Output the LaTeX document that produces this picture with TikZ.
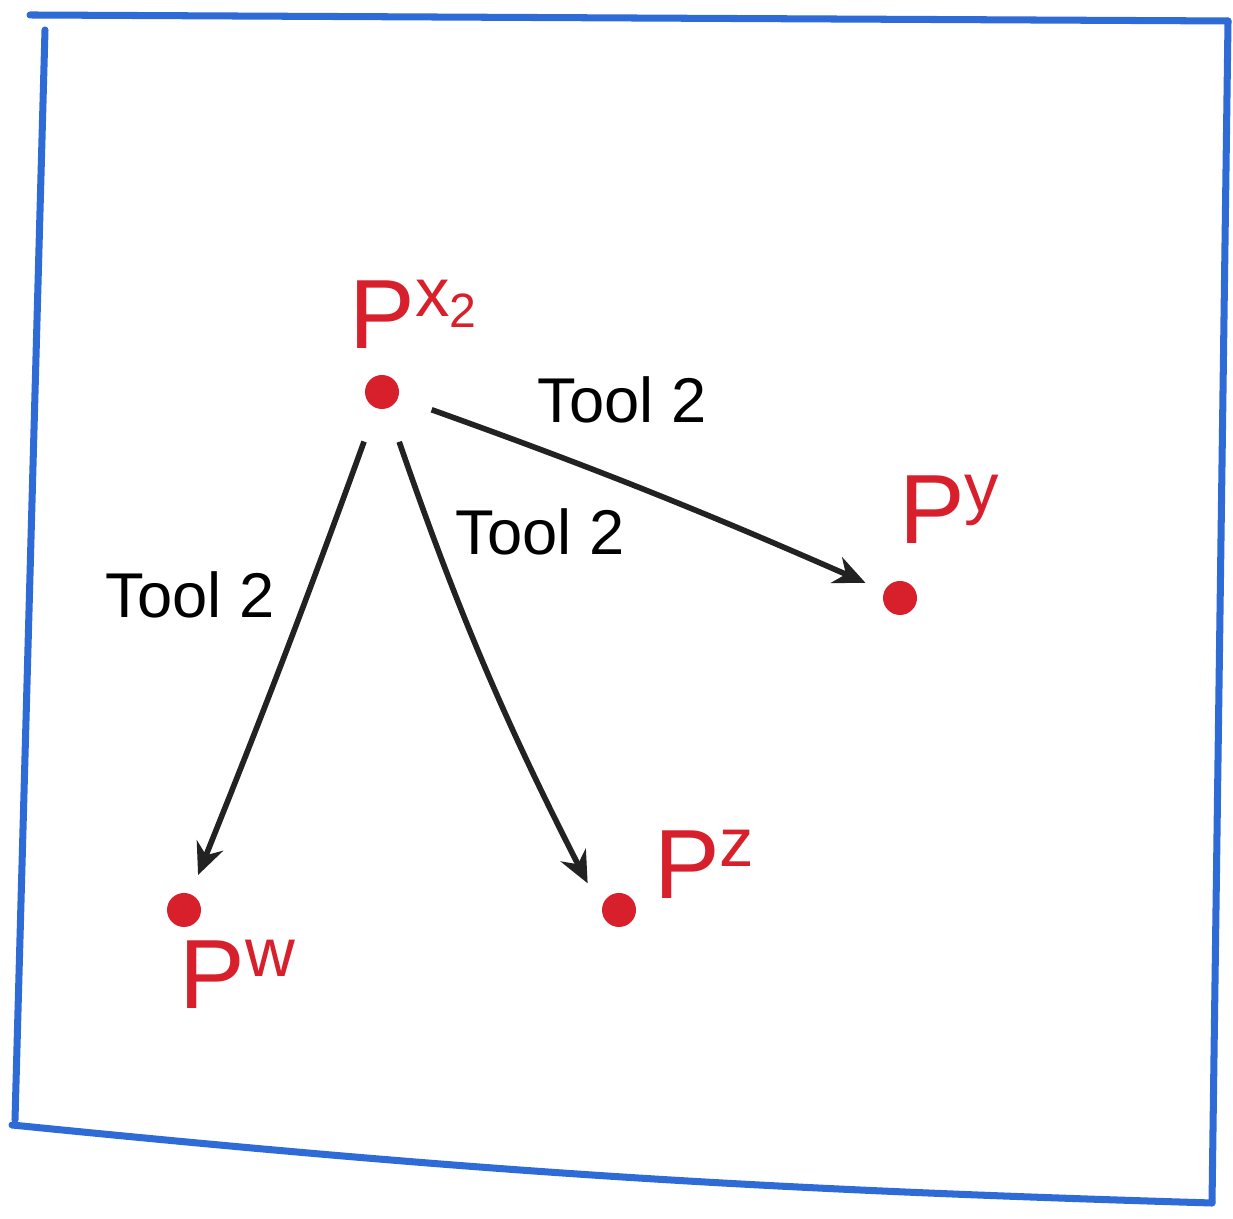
\documentclass[tikz,border=0pt]{standalone}
\usepackage{fontspec}
\setmainfont{Liberation Sans}
\usetikzlibrary{arrows.meta}

\begin{document}
\begin{tikzpicture}[
  dot/.style={circle, fill=ptred, inner sep=0pt, minimum size=0.34cm},
  plbl/.style={text=ptred, font=\fontsize{28}{30}\selectfont, inner sep=0pt},
  tool/.style={font=\fontsize{18}{20}\selectfont, inner sep=0pt},
  edge/.style={->, line width=1.6pt, draw=inkblack, shorten <=0.35cm, shorten >=0.2cm},
  frame/.style={draw=frameblue, line width=2pt, line cap=round},
  >={Stealth[length=9pt, width=8pt]}
]
  \definecolor{ptred}{HTML}{D8202C}
  \definecolor{frameblue}{HTML}{2F6BD6}
  \definecolor{inkblack}{HTML}{222222}

  \useasboundingbox (0,0) rectangle (12.33,12.19);

  % ================= FRAME =================
  \coordinate (tl) at (0.30,12.04);
  \coordinate (tr) at (12.28,11.98);
  \coordinate (br) at (12.12,0.16);
  \coordinate (bl) at (0.12,0.94);
  \draw[frame] (tl) -- (tr);
  \draw[frame] (0.45,11.89) -- (0.15,0.99);
  \draw[frame] (bl) to[bend right=2] (br);
  \draw[frame] (tr) -- (br);

  % ================= POINTS =================
  \node[dot] (px) at (3.82,8.27) {};
  \node[dot] (py) at (9.00,6.21) {};
  \node[dot] (pw) at (1.84,3.09) {};
  \node[dot] (pz) at (6.19,3.09) {};

  \node[plbl] (lx) at (4.15,9.05) {P\textsuperscript{x\textsubscript{2}}};
  \node[plbl] (ly) at (9.50,7.10) {P\textsuperscript{y}};
  \node[plbl] (lw) at (2.38,2.45) {P\textsuperscript{w}};
  \node[plbl] (lz) at (7.05,3.55) {P\textsuperscript{z}};

  % ================= TOOL 2 MOVES =================
  \draw[edge] (px) to[bend left=2] (py);
  \draw[edge] (px) to[bend left=1] (pw);
  \draw[edge, shorten >=0.3cm] (px) to[bend right=4] (pz.west);

  \node[tool] (t1) at (6.22,8.19) {Tool 2};
  \node[tool] (t2) at (1.90,6.24) {Tool 2};
  \node[tool] (t3) at (5.40,6.87) {Tool 2};
\end{tikzpicture}
\end{document}
